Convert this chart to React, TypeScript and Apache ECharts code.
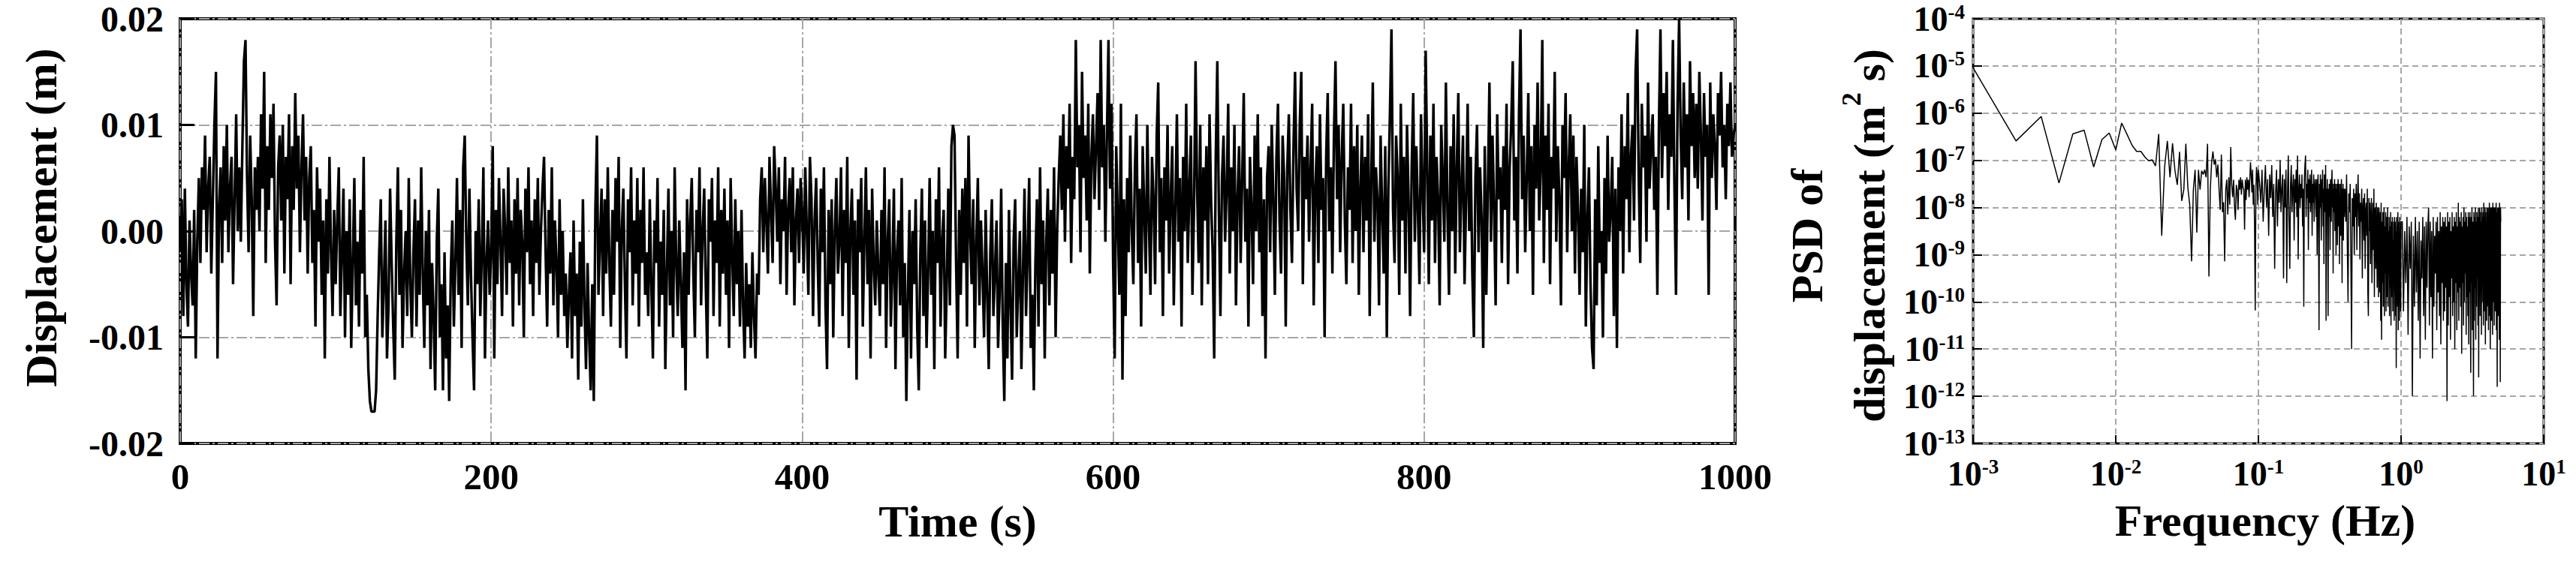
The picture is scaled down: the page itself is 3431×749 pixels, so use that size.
import React, { useEffect, useRef } from "react";
import * as echarts from "echarts";

const FONT = '"Liberation Serif", "Times New Roman", serif';

// Displacement in millimetres, one sample per second from t = 0 s
const displacementMm: number[] = [
  -2, 3, -8, 4, -5, -9, 1, -4, -7, 2, -12, -1, 5, -3, 6, 2, 9, -2, 4, 7, -4, 3, 10, 15, -12,
  2, 6, -3, 8, 1, 10, -2, 4, 7, -5, 3, 11, 0, 6, -1, 8, 16, 18, 5, -2, 9, 3, -8, 6, 2,
  7, 0, 11, 4, 15, -3, 8, 2, 11, 5, 12, -1, -7, 6, 9, 1, 10, -4, 7, 3, 11, -5, 8, 2, 13,
  4, 9, -2, 6, 11, 1, 7, -4, 5, 8, -3, 2, -9, 6, -1, 4, -6, 1, -12, 3, -4, 7, -2, -8, 2,
  -5, 1, 6, -8, -2, 4, -10, 0, -6, 3, -11, -3, 5, -7, -1, -9, 2, -4, 7, -10, -6, -13, -16, -17, -17,
  -17, -15, -8, -2, 3, -10, -5, 1, -12, -7, 4, -3, -9, -14, -1, 6, -6, 2, -11, -4, 0, -8, 5, -5, -10,
  -2, 3, -9, 1, -6, 6, -4, -11, 0, -7, 2, -13, -3, -8, -15, -1, 4, -10, -5, -15, -2, -12, -7, -16, -4,
  1, -9, -3, 5, -6, 2, -11, 6, 9, -1, -7, 4, -4, -10, -15, 0, -5, 3, -8, -2, 6, -12, -3, 1, -6,
  -2, 8, -12, 2, -5, 5, -1, -8, 4, 0, -6, 6, -3, 1, -9, 3, -4, 5, -7, 2, -1, -10, 4, -2, 6,
  -5, 1, -8, 3, -3, 5, -6, 0, 4, 7, -2, -9, 2, -4, 6, -7, 1, -3, -10, 3, -6, 0, -8, -4, -11,
  -6, -2, -12, 1, -8, -4, -14, -1, -9, 3, -7, -13, -3, -10, -15, -5, -16, 2, 9, -6, -1, 4, -8, 3, -4,
  6, -3, -9, 2, -6, 5, -1, 7, -11, 0, 4, -5, -12, 3, -2, 6, -7, 1, -4, 5, -9, 2, -3, 6, -6,
  -2, -8, 3, -5, -12, 1, -3, 5, -9, -1, -6, 2, -13, -4, 4, -7, 0, -10, 6, -3, -8, 1, -5, -11, -2,
  -15, 3, -6, 1, 5, -4, -10, 2, -2, 6, -7, 0, 4, -5, -12, 3, -1, 5, -8, 1, -3, 6, -9, 2, -4,
  4, -6, 1, -11, 5, -2, -8, 3, -5, 0, -9, 2, -7, -12, -3, -9, -5, -11, -2, -8, -12, -4, -6, 3, 6,
  -2, 5, 1, -4, 7, 2, -3, 8, 4, -1, 6, -5, 3, 0, 7, -6, 2, 5, -2, 6, -7, 1, 4, -3, 5,
  2, -4, 6, 0, -6, 7, 3, -8, 1, 5, -3, -9, 4, -2, 6, -7, -13, 2, -5, 3, -10, 0, 5, -4, -1,
  6, -8, 2, -3, 7, -11, 0, 4, -6, 1, -14, 3, -2, 5, -9, -1, 6, -5, 2, -12, 4, -3, -7, 1, -4,
  -8, 2, -5, 6, -11, -1, 3, -9, -4, 4, -13, -2, 1, -7, 5, -10, -3, -16, -6, 2, -12, 0, -5, 3, -9,
  -15, -2, 4, -8, 1, -11, -4, 5, -6, 0, -13, 3, -3, 6, -9, -1, 2, -12, -5, 4, -7, 8, 10, 9, -3,
  -12, 2, -6, 4, -3, 5, -9, 9, 0, -5, 3, -11, -1, 5, -7, 1, -4, -10, 2, -6, -13, -2, 3, -8, -4,
  1, -11, -6, 4, -9, -16, -3, -12, 2, -7, -14, -1, 3, -10, -5, 0, -13, -4, 4, -8, -2, 5, -11, -6, -15,
  -3, 3, -9, 6, -5, 1, -12, -1, 4, -7, 2, -4, 6, -10, 0, 5, 9, 2, 11, -1, 8, 4, 12, -3, 7,
  3, 18, 6, 10, -2, 15, 5, 9, 1, 12, -4, 7, 11, 3, 8, 13, 2, 18, 6, 10, -1, 9, 18, 4, 12,
  -3, -12, 8, 1, -6, 12, -14, 3, -8, 5, -2, 9, 0, -5, 6, 11, -3, 4, -9, 8, 2, -4, 10, 1, -6,
  7, 3, -5, 9, 14, -2, 5, -8, 6, 1, 10, -4, 3, 8, -7, 2, 11, -1, 5, -9, 7, 0, 12, -3, 4,
  9, -6, 2, 16, 4, -3, 10, -7, 6, 1, 8, -5, 11, 3, -2, -12, 7, 16, 2, -8, 5, 9, -1, 4, 12,
  -4, 6, 0, 10, -7, 3, 8, -3, 5, 13, -1, 4, -9, 7, 2, -5, 9, 0, 11, -2, 6, -8, 3, -12, 5,
  8, -2, 10, 3, -6, 7, 12, 1, -4, 9, 5, -9, 6, 11, 2, -3, 8, 15, 4, 0, 10, 15, -5, 7, 3,
  9, -1, 6, 12, -7, 4, 8, -3, 11, 2, 5, -10, 7, 13, 0, 6, -4, 9, 16, 3, 10, -2, 7, 12, 1,
  -5, 6, 2, 12, -3, 8, 0, 10, -6, 4, 9, -2, 7, 1, 11, -8, 5, 14, -1, 6, 3, -7, 9, 2, -4,
  8, -10, 4, 11, 19, 2, -3, 9, 5, -6, 12, 1, 7, -4, 10, 3, -8, 6, 13, -1, 8, 2, -5, 11, 4,
  -2, 17, 6, -5, 9, 1, 12, -3, 7, 3, -7, 10, 5, -1, 14, 2, -6, 8, 0, 11, -4, 6, 13, -2, 4,
  9, -5, 3, 12, 0, 7, -4, -10, 5, 10, -2, 6, 1, -11, 8, -6, 4, 14, -1, 9, 2, -7, 11, 3, 6,
  -3, 8, 2, 12, -5, 6, 10, 16, 1, 7, -4, 11, 19, 3, 9, -2, 5, 13, 0, 8, -6, 10, 4, 14, 1,
  6, 18, -3, 9, 2, 12, -5, 7, 4, 15, -1, 8, 3, -7, 10, 5, 13, -2, 6, 11, 0, 9, -4, 7, 2,
  -6, 4, -2, 10, -9, 1, 6, -5, -11, -13, 3, -7, 8, -3, 0, -10, 5, -4, 9, -1, 2, 7, -8, 4, -11,
  6, 0, 11, -4, 8, 3, 13, -2, 7, 10, 1, 15, 19, 5, -3, 12, 6, 9, -1, 14, 4, 8, 11, 2, 7,
  -6, 10, 19, 5, 13, 8, 15, 2, 11, 7, 18, 4, -6, 12, 20, 9, 3, 14, 6, 11, 1, 16, 8, 13, 5,
  12, 4, 15, 9, 1, 13, 7, 10, -6, 14, 5, 11, 8, 2, 13, 9, 15, 6, 10, 3, 12, 8, 14, 7, 9,
  10,
];
const timeStepS = 1;

// PSD values stored as log10(PSD [m^2 s])
// Segment A: f = 0.001 ... 0.100 Hz, step 0.001 Hz
const psdLogA: number[] = [
  -5.04, -6.59, -6.07, -7.48, -6.44, -6.36, -7.14, -6.56, -6.42, -6.78,
  -6.21, -6.45, -6.68, -6.81, -6.81, -6.93, -7.01, -6.99, -7.12, -6.44,
  -8.6, -7.14, -6.59, -7.36, -6.64, -7.22, -7.52, -6.82, -7.86, -7.62,
  -6.65, -7.57, -7.94, -9.14, -7.62, -7.2, -8.53, -7.2, -7.62, -7.22,
  -7.3, -7.2, -7.36, -6.65, -9.46, -7.62, -7.04, -6.81, -7.09, -6.98,
  -7.36, -7.09, -7.62, -8.05, -6.88, -8.1, -7.89, -9.14, -7.62, -7.41,
  -8.15, -7.36, -7.94, -6.72, -7.52, -7.78, -7.41, -7.99, -8.26, -7.52,
  -7.62, -8.05, -7.41, -7.62, -7.36, -7.73, -7.41, -7.57, -7.62, -8.47,
  -7.41, -7.84, -7.36, -7.62, -7.41, -7.78, -7.41, -7.04, -7.3, -7.68,
  -7.2, -7.94, -7.52, -8.42, -10.18, -7.62, -7.14, -7.3, -7.94, -7.2,
];
const psdStartA = 0.001;
const psdStepA = 0.001;
// Segment B: f = 0.102 ... 0.400 Hz, step 0.002 Hz
const psdLogB: number[] = [
  -7.5, -7.9, -7.2, -8.3, -7.6, -7.1, -8.0, -7.4, -8.6, -7.3, -7.8, -7.1, -8.2, -7.5, -9.3, -7.7, -7.2, -8.4, -7.4, -7.9, -7.0, -8.1, -7.6, -7.3, -9.5,
  -7.4, -8.0, -7.2, -9.6, -7.7, -6.9, -8.3, -9.3, -7.5, -7.1, -8.1, -7.6, -7.3, -8.7, -7.4, -7.9, -7.2, -8.2, -6.9, -9.1, -7.6, -7.3, -8.0, -7.5, -7.8,
  -7.3, -8.4, -7.6, -10.1, -7.4, -7.1, -6.9, -8.2, -7.5, -7.8, -7.2, -8.9, -7.4, -7.9, -7.3, -8.1, -7.6, -7.2, -8.6, -7.5, -7.9, -7.3, -8.3, -7.6, -7.4,
  -7.7, -8.2, -7.4, -9.0, -7.6, -7.3, -8.5, -10.6, -7.5, -8.0, -7.3, -7.8, -8.7, -7.4, -7.9, -7.2, -8.4, -7.6, -9.2, -7.3, -7.7, -8.1, -7.1, -10.4, -7.6,
  -7.9, -7.4, -8.6, -10.3, -7.6, -8.2, -7.5, -7.9, -8.9, -7.4, -7.7, -8.3, -7.5, -7.2, -8.0, -7.6, -9.4, -7.5, -8.1, -7.7, -7.4, -8.5, -7.8, -7.5, -9.0,
  -7.6, -8.2, -7.5, -8.8, -7.7, -7.4, -8.4, -7.9, -7.5, -9.2, -7.8, -8.1, -7.5, -8.6, -7.7, -7.4, -8.3, -9.6, -7.6, -8.0, -7.5, -8.7, -7.8, -7.6, -8.2,
];
const psdStartB = 0.102;
const psdStepB = 0.002;
// Segment C: f = 0.405 ... 1.000 Hz, step 0.005 Hz
const psdLogC: number[] = [
  -7.6, -8.3, -7.3, -8.8, -10.0, -7.7, -8.1, -7.5, -9.2, -11.0, -7.8, -8.4, -7.6, -9.0, -7.7, -8.2, -7.5, -8.9, -7.8, -7.3,
  -8.4, -7.7, -9.1, -7.9, -8.3, -7.6, -9.5, -8.0, -7.8, -8.7, -7.7, -9.3, -8.1, -7.9, -8.6, -7.6, -9.8, -10.3, -7.8, -8.5,
  -7.9, -9.2, -8.2, -7.8, -9.6, -8.4, -7.9, -8.9, -7.6, -9.9, -8.1, -8.0, -9.3, -7.9, -8.6, -9.7, -8.0, -8.3, -9.9, -8.0,
  -8.5, -9.8, -8.1, -10.4, -7.9, -10.8, -8.3, -9.6, -8.1, -10.1, -8.6, -8.0, -10.3, -8.4, -9.4, -8.1, -10.2, -8.7, -8.2, -9.9,
  -8.0, -10.1, -8.5, -9.4, -8.2, -10.3, -8.4, -9.7, -8.1, -10.5, -8.6, -8.3, -9.9, -8.2, -10.2, -8.7, -9.5, -8.3, -10.4, -8.2,
  -9.8, -8.3, -10.3, -8.5, -11.4, -8.2, -9.7, -8.4, -10.1, -8.1, -10.6, -8.3, -9.2, -8.6, -10.4, -8.2, -9.9, -8.4, -10.2, -8.3,
];
const psdStartC = 0.405;
const psdStepC = 0.005;
// Segment D: f = 1.02 ... 5.00 Hz, step 0.02 Hz
const psdLogD: number[] = [
  -8.3, -10.2, -8.5, -9.6, -8.2, -10.7, -8.4, -9.3, -8.3, -12.0, -8.6, -10.1, -8.2, -9.8, -8.5, -10.4, -8.3, -11.2, -8.7, -9.5, -8.2, -10.3, -8.4, -10.8, -8.3,
  -9.7, -8.4, -8.0, -10.5, -8.3, -9.9, -8.5, -11.2, -8.2, -10.1, -8.6, -9.4, -8.3, -10.6, -8.2, -9.8, -8.5, -10.3, -8.1, -10.9, -8.4, -9.6, -8.2, -10.4, -8.3,
  -10.2, -8.2, -9.7, -8.4, -12.1, -8.1, -10.5, -8.3, -9.9, -8.2, -10.8, -8.5, -9.5, -8.1, -10.3, -8.4, -10.0, -8.2, -11.0, -8.3, -9.6, -8.1, -10.6, -8.4, -9.8,
  -7.9, -10.4, -8.2, -9.7, -8.3, -10.1, -8.1, -11.1, -8.4, -9.6, -8.2, -10.5, -8.0, -10.0, -8.3, -9.4, -8.1, -10.7, -8.2, -9.9, -8.4, -10.3, -8.1, -10.9, -8.2,
  -9.8, -8.1, -10.2, -11.5, -8.2, -9.6, -8.0, -10.6, -8.3, -9.9, -12.0, -8.1, -10.4, -8.2, -9.7, -8.0, -10.8, -8.3, -10.1, -8.1, -9.5, -8.2, -10.5, -8.0, -11.6,
  -8.2, -9.9, -8.0, -10.3, -8.1, -9.6, -8.3, -10.7, -8.0, -10.0, -8.2, -9.4, -8.1, -10.5, -7.9, -10.2, -8.2, -9.8, -8.0, -10.9, -8.1, -9.7, -8.3, -10.4, -8.0,
  -10.1, -8.1, -9.6, -8.0, -10.6, -8.2, -9.9, -7.9, -10.3, -8.1, -11.0, -8.0, -9.5, -8.2, -10.4, -8.0, -9.8, -8.1, -10.7, -7.9, -10.0, -8.2, -9.6, -8.0, -10.5,
  -8.1, -9.9, -8.0, -10.2, -8.2, -9.7, -7.9, -10.6, -8.1, -10.0, -11.8, -8.0, -9.5, -8.2, -10.3, -8.0, -9.8, -8.1, -10.8, -7.9, -10.1, -8.2, -11.7, -8.0, -8.3,
];
const psdStartD = 1.02;
const psdStepD = 0.02;

const leftYTicks = [-0.02, -0.01, 0, 0.01, 0.02];

function segment(logs: number[], start: number, step: number): [number, number][] {
  return logs.map((lg, i) => [Number((start + i * step).toFixed(5)), Math.pow(10, lg)]);
}

const timeData: [number, number][] = displacementMm.map((mm, i) => [i * timeStepS, mm / 1000]);
const psdData: [number, number][] = [
  ...segment(psdLogA, psdStartA, psdStepA),
  ...segment(psdLogB, psdStartB, psdStepB),
  ...segment(psdLogC, psdStartC, psdStepC),
  ...segment(psdLogD, psdStartD, psdStepD),
];

const boldText = { fontFamily: FONT, fontWeight: "bold" as const, color: "#000" };

const powRich = {
  b: { ...boldText, fontSize: 46, lineHeight: 46 },
  s: { ...boldText, fontSize: 27, lineHeight: 20, verticalAlign: "top" as const },
};
const powFormatter = (v: number) => `{b|10}{s|${Math.round(Math.log10(v))}}`;

export default function App() {
  const ref = useRef<HTMLDivElement>(null);
  useEffect(() => {
    if (!ref.current) return;
    const chart = echarts.init(ref.current, undefined, { renderer: "svg" });
    const option: any = {
      animation: false,
      backgroundColor: "#fff",
      grid: [
        { left: 240, top: 25, width: 2071, height: 566, show: true, borderColor: "#000", borderWidth: 4, backgroundColor: "transparent" },
        { left: 2628, top: 25, width: 760, height: 566, show: true, borderColor: "#000", borderWidth: 3, backgroundColor: "transparent" },
      ],
      xAxis: [
        {
          type: "value", gridIndex: 0, min: 0, max: 1000, interval: 200,
          axisLine: { show: false },
          axisTick: { show: true, inside: true, length: 20, lineStyle: { color: "#000", width: 3 } },
          axisLabel: { ...boldText, fontSize: 49, margin: 20, formatter: (v: number) => String(Math.round(v)) },
          splitLine: { show: true, lineStyle: { color: "#a6a6a6", width: 2, type: [14, 4, 3, 4] } },
          name: "Time (s)", nameLocation: "middle", nameGap: 73,
          nameTextStyle: { ...boldText, fontSize: 60 },
        },
        {
          type: "log", gridIndex: 1, min: 0.001, max: 10, logBase: 10,
          axisLine: { show: false },
          axisTick: { show: true, inside: true, length: 11, lineStyle: { color: "#000", width: 2 } },
          axisLabel: { formatter: powFormatter, rich: powRich, margin: 17 },
          splitLine: { show: true, lineStyle: { color: "#a6a6a6", width: 2, type: [8, 5] } },
          minorTick: { show: false },
          name: "Frequency (Hz)", nameLocation: "middle", nameGap: 73,
          nameTextStyle: { ...boldText, fontSize: 60, padding: [0, 0, 0, 18] },
        },
      ],
      yAxis: [
        {
          type: "value", gridIndex: 0, min: leftYTicks[0], max: leftYTicks[leftYTicks.length - 1], interval: 0.01,
          axisLine: { show: false },
          axisTick: { show: true, inside: true, length: 19, lineStyle: { color: "#000", width: 3 } },
          axisLabel: { ...boldText, fontSize: 48, margin: 22, formatter: (v: number) => (Math.abs(v) < 1e-9 ? "0.00" : v.toFixed(2)) },
          splitLine: { show: true, lineStyle: { color: "#a6a6a6", width: 2, type: [14, 4, 3, 4] } },
          name: "Displacement (m)", nameLocation: "middle", nameGap: 155,
          nameTextStyle: { ...boldText, fontSize: 60, padding: [0, 0, 0, 36] },
        },
        {
          type: "log", gridIndex: 1, min: 1e-13, max: 1e-4, logBase: 10,
          axisLine: { show: false },
          axisTick: { show: true, inside: true, length: 12, lineStyle: { color: "#000", width: 2 } },
          axisLabel: { formatter: powFormatter, rich: powRich, margin: 11 },
          splitLine: { show: true, lineStyle: { color: "#a6a6a6", width: 2, type: [8, 5] } },
          minorTick: { show: false },
          name: "{t|PSD of}\n{t|displacement (m}{s|2}{t| s)}",
          nameLocation: "middle", nameGap: 90,
          nameTextStyle: {
            ...boldText, fontSize: 60, lineHeight: 83, padding: [0, 12, 0, 0],
            rich: {
              t: { ...boldText, fontSize: 60, lineHeight: 83 },
              s: { ...boldText, fontSize: 36, lineHeight: 12, verticalAlign: "top" },
            },
          },
        },
      ],
      series: [
        {
          type: "line", xAxisIndex: 0, yAxisIndex: 0, data: timeData,
          symbol: "none", showSymbol: false, silent: true,
          lineStyle: { color: "#000", width: 3.4 },
        },
        {
          type: "line", xAxisIndex: 1, yAxisIndex: 1, data: psdData,
          symbol: "none", showSymbol: false, silent: true,
          lineStyle: { color: "#000", width: 1.5 },
        },
      ],
    };
    chart.setOption(option);
    return () => chart.dispose();
  }, []);
  return (
    <div
      ref={ref}
      style={{ position: "absolute", left: 0, top: 0, width: 3431, height: 749, background: "#fff" }}
    />
  );
}
